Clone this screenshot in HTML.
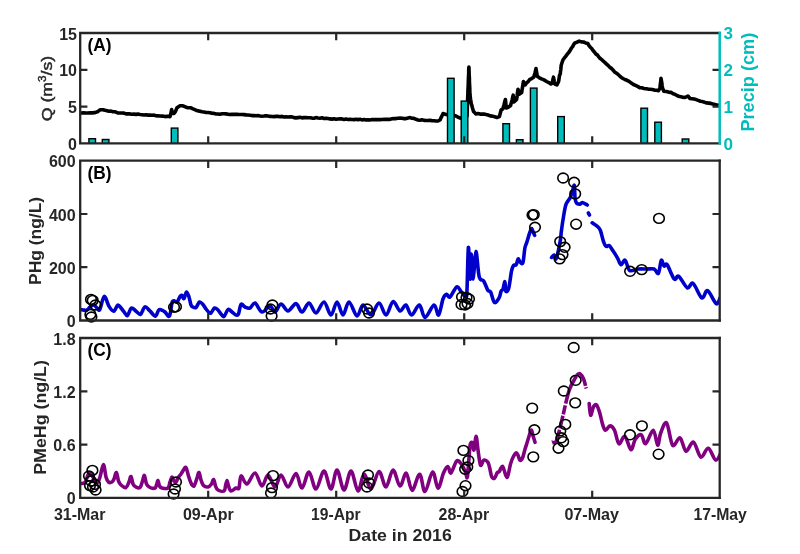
<!DOCTYPE html><html><head><meta charset="utf-8"><style>html,body{margin:0;padding:0;background:#fff;width:800px;height:554px;overflow:hidden}svg{display:block;filter:blur(0.35px)}text{font-family:"Liberation Sans",sans-serif}</style></head><body>
<svg width="800" height="554" viewBox="0 0 800 554">
<rect width="800" height="554" fill="#fff"/>
<g font-weight="bold">
<clipPath id="ca"><rect x="80.2" y="33" width="639.5" height="110.4"/></clipPath>
<clipPath id="cb"><rect x="80.2" y="160.7" width="639.5" height="159.8"/></clipPath>
<clipPath id="cc"><rect x="80.2" y="338" width="639.5" height="159.9"/></clipPath>
<path clip-path="url(#ca)" d="M81 113 L83.5 112.8 L86 113 L88 113 L90 112.8 L92 112.9 L95 112.6 L98 111.5 L100 109.8 L103 109.7 L105 110.3 L107 110.7 L109 111.2 L111 111.1 L113 111.8 L115.3 111.8 L117.7 112.9 L120 113 L122 113 L124 113.1 L126 113.9 L128 113.7 L130 113.9 L132 114.3 L134 114.1 L136 114.4 L138 114.1 L140 114.5 L142 114.7 L144 115 L146 114.8 L148 115.1 L150 115 L152 115.3 L154 115.1 L156 115.8 L158 115.9 L160 116 L162.5 116.1 L165 116.6 L167.5 116.2 L170 116.6 L171 113 L171.6 109.5 L172.1 111.8 L172.5 113.5 L174 113.5 L175.5 111.5 L176.2 109.6 L177 107.7 L180 105.8 L183 105.8 L186 107.2 L188 107.7 L191 107.8 L193 108.8 L196 110.2 L198 110.9 L200 111.2 L202 111.8 L204 112 L206 112.5 L208 112.5 L210 112.7 L212 113.3 L214 113.4 L216 114 L218 114 L220 114.3 L222 113.8 L224 113.8 L226 113.9 L228 114.2 L230 114.6 L232 114.2 L234 114.4 L236 114.2 L238 114.4 L240 114.5 L242 114.5 L244 114.6 L246 114.9 L248 115 L250 115.2 L252 115.6 L254 115.5 L256 115.8 L258 115.6 L260 116 L262 116.2 L264 116 L266 115.7 L268 116 L270 116.4 L272 116.5 L274 116.6 L276 116.4 L278 116.4 L280 116.7 L282 116.4 L284 117 L286 116.9 L288 117 L290 116.9 L292 116.9 L294 117.6 L296 117.9 L298 117.6 L300 117.3 L302 117.9 L304 117.6 L306 117.5 L308 117.8 L310 117.7 L312 118.1 L314 118.2 L316 117.6 L318 118 L320 118.2 L322 117.8 L324 118.5 L326 118.3 L328 118.5 L330 118.9 L332 119.1 L334 118.8 L336 119.3 L338 119 L340 118.9 L342 118.9 L344 119.4 L346 119 L348 119.5 L350 119.3 L352 119.5 L354 119.6 L356 119.3 L358 119.6 L360 119.3 L362 119.9 L364 119.5 L366 120 L368 119.7 L370 120 L372 119.6 L374 119.6 L376 119.6 L378 119.6 L380 119.6 L382 119.5 L384 119.4 L386 119.4 L388 119.2 L390 119.4 L392 118.8 L394 118.5 L396 118.6 L398 118.2 L400 118.1 L402 118.3 L404 118.6 L406 118.6 L408 118 L410 117.6 L412 118.2 L414 118.4 L416 119.3 L418 120 L420 120.2 L422 119.8 L424 120.4 L426 120.5 L428 120.5 L430 120.2 L432 120.8 L434 120.8 L436 121 L438 121 L440 120 L441 117.7 L442 115.9 L443 113.6 L446 114.4 L448 115 L450 114.8 L452 115.5 L454 115.4 L456 116 L458 117.1 L460 118 L463 118.5 L465 117.6 L467 116 L467.1 113.8 L467.2 111.9 L467.2 109.9 L467.3 107.7 L467.4 105.7 L467.5 103.6 L467.6 101.6 L467.6 99.7 L467.7 97.5 L467.8 95.5 L467.9 93.8 L467.9 91.1 L468 89.5 L468.1 87.6 L468.2 85.2 L468.3 83.1 L468.3 81.5 L468.4 79 L468.5 77 L468.6 75.1 L468.7 73.3 L468.7 70.8 L468.8 68.9 L468.9 67 L469 68.9 L469.1 71.3 L469.1 73 L469.2 75.3 L469.3 76.7 L469.4 78.9 L469.4 81.1 L469.5 83.3 L469.6 85 L469.7 86.8 L469.8 88.7 L469.8 91 L469.9 92.8 L470 95 L470.3 97.3 L470.6 99.5 L470.9 101 L471.2 103.4 L471.8 105.3 L472.4 107.7 L473 109.7 L473.6 111.6 L476 114 L478 113.6 L480 114.1 L482 114 L484 114.1 L486 114.6 L488 115 L490.2 115.9 L492.4 116.1 L494.7 116.8 L496.9 117.5 L499.4 116.6 L500 114.3 L500.6 112 L501.2 109.8 L502.9 108.9 L503.5 106.5 L504.1 104.5 L504.8 101.6 L505.4 99.5 L505.6 101.2 L505.9 104.1 L506.1 106.2 L506.3 108 L508.5 107.1 L510.6 105.5 L511.1 103.4 L511.6 101.7 L512.2 99.7 L512.7 97 L513.2 95.2 L513.5 97.7 L513.7 100 L514 102 L516.6 99.5 L516.9 97.6 L517.2 95.4 L517.4 93.2 L517.7 91.1 L518 89.2 L518.6 91.5 L519.2 94.3 L521.7 92.6 L522 90 L522.4 88.2 L522.7 85.8 L523.1 84 L523.4 81.5 L525.2 84.9 L526.6 82.8 L528.1 81.8 L529.5 79.7 L531.6 78.6 L533.7 77.2 L534.3 75.4 L534.9 73.2 L535.4 71.1 L536 68.6 L536.4 71.2 L536.8 73.3 L537.2 76.3 L539.4 77.8 L541.5 78.9 L544 79.9 L546.6 81.5 L548.8 82.6 L550.9 84 L552.1 83.2 L552.6 81.3 L553 79.2 L553.5 77.2 L553.9 79.4 L554.4 82.1 L554.8 84 L556.9 84.9 L558.6 81.5 L558.9 79.6 L559.2 77.4 L559.5 75.5 L560.3 73.7 L560.5 71.4 L560.8 69.7 L561 67.3 L561.2 65.2 L562 62.8 L562.9 60 L564.2 58.2 L565.5 56.6 L567.2 54.2 L568.9 52.3 L570.2 50.2 L571.5 48 L572.6 46.6 L573.8 44.3 L574.9 42.9 L577 42.2 L579.2 41.1 L581.4 41.9 L583.5 42 L585.6 42.9 L587.8 43.4 L589 45.6 L590.3 47.2 L591.7 48.5 L593.2 50.7 L594.6 52.3 L596 54.1 L597.3 54.9 L598.6 56.6 L600 58.3 L601.7 59.6 L603.3 61.2 L605 62.6 L606.6 64.1 L608.3 65.6 L609.9 67.4 L611.5 68.4 L613 70 L614.6 71.9 L616.1 72.9 L617.7 74.2 L619.2 75.5 L620.8 77.1 L622.9 78.5 L624.9 79.5 L627 80.3 L629.1 81.4 L631.3 83.1 L633.4 84.5 L635.5 85.4 L637.6 86.4 L639.7 87.6 L641.8 87.8 L643.9 88.5 L646 88.7 L648.1 89.1 L650.2 89.3 L652.3 89.5 L654.4 90.1 L656.5 90.3 L658.5 90.7 L660 88 L660.2 85.2 L660.5 83.1 L660.8 80.8 L661 78.2 L661.4 80.6 L661.8 82.8 L662.1 85.3 L662.5 88 L663.8 91.2 L666.2 91.5 L668.6 92.1 L671 92.4 L673.1 93.7 L675.2 94.4 L677.4 95.8 L679.5 96.6 L682.2 97.1 L685 97.5 L687.9 96 L690 98.5 L692 98.7 L694 99.1 L696.1 99.6 L698.2 100.4 L700.4 101.2 L702.5 101.6 L704.6 102.3 L706.7 102.9 L708.8 103.1 L710.8 103.4 L712.9 104 L715 104.4 L717 105.1 L719 105.4" fill="none" stroke="#000" stroke-width="3.6" stroke-linejoin="round" stroke-linecap="round"/>
<g clip-path="url(#ca)" fill="#00BDBD" stroke="#000" stroke-width="1.4">
<rect x="88.9" y="138.7" width="6.6" height="5.4"/>
<rect x="102.3" y="139.5" width="6.6" height="4.6"/>
<rect x="171.3" y="128.1" width="6.6" height="16"/>
<rect x="447.5" y="78.3" width="6.6" height="65.8"/>
<rect x="461.2" y="101.1" width="6.6" height="43"/>
<rect x="502.9" y="123.7" width="6.6" height="20.4"/>
<rect x="516.4" y="139.7" width="6.6" height="4.4"/>
<rect x="530.4" y="88.1" width="6.6" height="56"/>
<rect x="557.7" y="116.6" width="6.6" height="27.5"/>
<rect x="640.9" y="108.2" width="6.6" height="35.9"/>
<rect x="654.8" y="122.2" width="6.6" height="21.9"/>
<rect x="682.2" y="139" width="6.6" height="5.1"/>
</g>
<path clip-path="url(#cb)" d="M80 309.5 C80.5 309.6 81.8 309.9 83 310 C84.2 310.1 85.8 310.5 87 310 C88.2 309.5 88.8 307.8 90 307 C91.2 306.2 92.8 304.8 94 305 C95.2 305.2 96 307.2 97 308 C98 308.8 98.6 311.4 99.8 309.5 C101 307.6 102.7 296.9 104.2 296.4 C105.7 295.9 107.4 303.9 109 306.4 C110.6 308.9 112.3 311.4 113.8 311.2 C115.2 311 116.5 305.6 117.7 305.1 C118.9 304.6 120.2 307.1 121.2 308.2 C122.2 309.3 122.9 310.5 123.9 311.7 C124.9 312.9 126.2 316.2 127.4 315.6 C128.6 315 129.9 308.9 131.3 308.2 C132.8 307.5 134.6 310.2 136.1 311.2 C137.6 312.2 139 315 140.5 314.3 C142 313.6 143.3 307.4 144.9 306.9 C146.5 306.4 148.3 309.7 150.1 311.2 C151.8 312.7 153.9 316.3 155.4 316.1 C156.9 315.9 157.7 310.8 158.9 309.9 C160.1 308.9 161.4 310 162.4 310.4 C163.4 310.8 163.8 311.1 165 312 C166.2 312.9 168.2 317.8 169.5 316 C170.8 314.2 171.2 303.8 172.5 301.5 C173.8 299.2 175.8 302.8 177 302 C178.2 301.2 179.2 297.6 180 296.5 C180.8 295.4 181.3 295.2 182 295.5 C182.7 295.8 183.2 299.1 184 298.5 C184.8 297.9 185.7 292.2 186.5 292 C187.3 291.8 188.2 294.8 189 297 C189.8 299.2 190.3 303.3 191 305 C191.7 306.7 192.2 306.6 193 307 C193.8 307.4 194.9 308.3 196 307.5 C197.1 306.7 198.3 302.5 199.5 302 C200.7 301.5 201.9 303.3 203 304.5 C204.1 305.7 205.1 307.8 206 309 C206.9 310.2 207.7 311.3 208.5 312 C209.3 312.7 210 313.7 211 313 C212 312.3 213.3 308.5 214.5 308 C215.7 307.5 216.9 309 218 310 C219.1 311 220 312.9 221 314 C222 315.1 222.8 317.2 224 316.5 C225.2 315.8 226.7 310.2 228 309.5 C229.3 308.8 230.7 311.1 232 312 C233.3 312.9 234.9 314.7 236 315 C237.1 315.3 237.7 315.8 238.5 314 C239.3 312.2 239.9 305.7 241 304.5 C242.1 303.3 243.5 306.4 245 307 C246.5 307.6 248.3 308.7 250 308 C251.7 307.3 253 302.3 255 303 C257 303.7 259.5 311.5 262 312 C264.5 312.5 267.8 306 270 306 C272.2 306 273.2 312.3 275 312 C276.8 311.7 278.8 304.2 281 304 C283.2 303.8 285.5 311.1 288 311 C290.5 310.9 293.7 303.4 296 303.6 C298.3 303.8 299.8 312.1 302 312 C304.2 311.9 306.7 302.8 309 303 C311.3 303.2 313.5 313.2 316 313 C318.5 312.8 321.5 301.7 324 302 C326.5 302.3 328.8 315 331 315 C333.2 315 335 302 337 302 C339 302 341 315 343 315 C345 315 346.7 301.8 349 302 C351.3 302.2 354.7 315.5 357 316 C359.3 316.5 360.7 305.2 363 305 C365.3 304.8 368.3 315.3 371 315 C373.7 314.7 376.5 303 379 303 C381.5 303 383.7 315.2 386 315 C388.3 314.8 390.7 302.3 393 301.6 C395.3 300.9 397.9 310.4 400 311 C402.1 311.6 404 304.3 405.9 305 C407.8 305.7 409.2 315 411.5 315 C413.8 315 417.1 304.6 419.4 305 C421.6 305.4 422.6 317.4 425 317.4 C427.4 317.4 431.7 305.4 434 305 C436.3 304.6 437.1 316 438.6 315 C440.1 314 441.7 302.4 443 299 C444.3 295.6 445.3 294.6 446.5 294.3 C447.7 294 448.3 298.2 450 297 C451.7 295.8 454.9 287.8 456.7 286.9 C458.5 286 459.5 289.7 461 291.4 C462.5 293.1 464.7 297.2 465.7 297 C466.7 296.8 466.6 298.3 467 290 C467.4 281.7 467.9 249.2 468.4 247.4 C468.9 245.6 469.7 277.9 470.2 279 C470.7 280.1 470.8 254 471.3 254 C471.8 254 472.4 279.4 473.2 279 C474 278.6 474.9 251.9 475.9 251.5 C476.9 251.1 477.9 271.8 479.2 276.7 C480.5 281.6 482.4 278.9 483.8 281.2 C485.2 283.4 486.7 288.4 487.8 290.2 C488.9 292 489.6 290.1 490.7 292.1 C491.8 294.2 493.1 301.6 494.5 302.5 C495.9 303.4 498.1 299.6 499.2 297.7 C500.3 295.8 500.5 292.5 501.1 291.1 C501.7 289.7 502.4 290.8 503 289.2 C503.6 287.6 504.4 281.4 504.9 281.7 C505.4 282 505.2 290 505.8 291.1 C506.4 292.2 507.8 291.6 508.7 288.3 C509.6 285 510.7 275 511.5 271.2 C512.3 267.4 512.6 266.7 513.4 265.6 C514.2 264.5 515.4 265.7 516.2 264.6 C517 263.5 517.5 259.5 518.1 259 C518.7 258.5 519.2 261.2 520 261.8 C520.8 262.4 522.1 264.9 522.9 262.7 C523.7 260.5 524.2 251.8 524.8 248.5 C525.4 245.2 525.8 245.4 526.6 242.9 C527.4 240.4 528.7 235.8 529.5 233.4 C530.3 231 530.8 229 531.4 228.7 C532 228.4 532.5 230.4 533 231.5 C533.5 232.6 534.3 234.7 534.6 235.3" fill="none" stroke="#0000CC" stroke-width="3.6" stroke-linejoin="round" stroke-linecap="round"/>
<path clip-path="url(#cb)" d="M551.6 257.4 C552 257 553.3 254.7 554 255 C554.7 255.3 555.2 259.8 556 259 C556.8 258.2 557.8 253.2 558.5 250 C559.2 246.8 559.9 243 560.4 240 C560.9 237 560.8 235.9 561.3 231.8 C561.8 227.7 562.9 220.1 563.7 215.5 C564.5 210.9 565 207.1 566.1 204.1 C567.2 201.1 569.1 199.8 570.2 197.6 C571.3 195.4 571.9 193.1 572.6 191.1 C573.3 189.1 573.9 184.2 574.3 185.4 C574.7 186.6 574.7 195.5 575.1 198.5 C575.5 201.5 575.9 202.4 576.7 203.3 C577.5 204.2 579 204.2 580 204.1 C581 204 581.2 202.3 582.4 202.5 C583.6 202.7 586.5 204.6 587.3 205" fill="none" stroke="#0000CC" stroke-width="3.6" stroke-linejoin="round" stroke-linecap="round"/>
<path clip-path="url(#cb)" d="M588.3 213 L589.5 215" fill="none" stroke="#0000CC" stroke-width="3.6" stroke-linejoin="round" stroke-linecap="round"/>
<path clip-path="url(#cb)" d="M592.2 222.8 C593 223.4 595.6 224.9 597 226.1 C598.4 227.3 599.2 227.6 600.3 230.2 C601.4 232.8 602.5 238.8 603.5 241.5 C604.5 244.2 605 245.7 606 246.4 C607 247.1 608 244.8 609.2 245.6 C610.4 246.4 611.9 249.3 613.3 251.3 C614.7 253.3 616.1 255.6 617.4 257.8 C618.7 260 619.6 264.3 620.9 264.7 C622.2 265.1 623.8 259.4 625.2 260.3 C626.7 261.2 627.4 268.9 629.6 270.4 C631.8 271.8 635.3 269.2 638.2 269 C641.1 268.8 644.2 269 646.9 269 C649.5 269 652.2 268.3 654.1 269 C656 269.7 657.2 274.8 658.4 273.3 C659.6 271.9 660.4 261.5 661.3 260.3 C662.2 259.1 663 265.3 664 266 C665 266.7 665.4 262.5 667.1 264.7 C668.8 266.9 672.4 277.2 674.3 279.1 C676.2 281 676.5 274.8 678.7 276.2 C680.9 277.6 684.9 286.6 687.3 287.8 C689.7 289 690.7 281.7 693.1 283.4 C695.5 285.1 699.4 296.7 701.8 297.9 C704.2 299.1 705.2 289.7 707.6 290.7 C710 291.7 714.1 302.5 716.2 303.7 C718.3 304.9 719.4 298.9 720 298" fill="none" stroke="#0000CC" stroke-width="3.6" stroke-linejoin="round" stroke-linecap="round"/>
<g fill="none" stroke="#000" stroke-width="1.6">
<ellipse cx="91" cy="299.4" rx="5.3" ry="4.9"/>
<ellipse cx="92.7" cy="300.4" rx="5.3" ry="4.9"/>
<ellipse cx="95.4" cy="305" rx="5.3" ry="4.9"/>
<ellipse cx="90.4" cy="314.4" rx="5.3" ry="4.9"/>
<ellipse cx="91.4" cy="317" rx="5.3" ry="4.9"/>
<ellipse cx="174" cy="307.2" rx="5.3" ry="4.9"/>
<ellipse cx="176" cy="306.8" rx="5.3" ry="4.9"/>
<ellipse cx="272.4" cy="305" rx="5.3" ry="4.9"/>
<ellipse cx="270.4" cy="309" rx="5.3" ry="4.9"/>
<ellipse cx="271.6" cy="316" rx="5.3" ry="4.9"/>
<ellipse cx="367" cy="309" rx="5.3" ry="4.9"/>
<ellipse cx="369" cy="313" rx="5.3" ry="4.9"/>
<ellipse cx="462" cy="297" rx="5.3" ry="4.9"/>
<ellipse cx="466.5" cy="297.5" rx="5.3" ry="4.9"/>
<ellipse cx="469" cy="299" rx="5.3" ry="4.9"/>
<ellipse cx="461.5" cy="304.5" rx="5.3" ry="4.9"/>
<ellipse cx="465" cy="305" rx="5.3" ry="4.9"/>
<ellipse cx="467.5" cy="303.5" rx="5.3" ry="4.9"/>
<ellipse cx="532.5" cy="215" rx="5.3" ry="4.9"/>
<ellipse cx="533.8" cy="214.6" rx="5.3" ry="4.9"/>
<ellipse cx="535" cy="227.3" rx="5.3" ry="4.9"/>
<ellipse cx="563.1" cy="178" rx="5.3" ry="4.9"/>
<ellipse cx="574.1" cy="182.3" rx="5.3" ry="4.9"/>
<ellipse cx="575.2" cy="193.9" rx="5.3" ry="4.9"/>
<ellipse cx="576.1" cy="224.2" rx="5.3" ry="4.9"/>
<ellipse cx="560.2" cy="241.6" rx="5.3" ry="4.9"/>
<ellipse cx="564.6" cy="247.3" rx="5.3" ry="4.9"/>
<ellipse cx="562.5" cy="254.6" rx="5.3" ry="4.9"/>
<ellipse cx="559.6" cy="258.9" rx="5.3" ry="4.9"/>
<ellipse cx="630.1" cy="271.3" rx="5.3" ry="4.9"/>
<ellipse cx="641.7" cy="269.6" rx="5.3" ry="4.9"/>
<ellipse cx="659" cy="218.4" rx="5.3" ry="4.9"/>
</g>
<path clip-path="url(#cc)" d="M80 483.5 C80.8 483.3 83.7 483.9 85 482.5 C86.3 481.1 87.1 476.6 88 475 C88.9 473.4 89.6 472.5 90.5 473 C91.4 473.5 92.4 476.3 93.5 478 C94.6 479.7 95.9 483.2 97 483 C98.1 482.8 98.9 480.1 100 477 C101.1 473.9 102.4 464.5 103.4 464.5 C104.4 464.5 105.2 474.1 106 477 C106.8 479.9 107.5 481.2 108.5 482 C109.5 482.8 111.1 482.5 112 482 C112.9 481.5 113.3 480.6 114 479 C114.7 477.4 115.7 472.2 116.4 472.5 C117.2 472.8 117.7 478.9 118.5 481 C119.3 483.1 119.8 483.9 121 485 C122.2 486.1 124.7 488 126 487.5 C127.3 487 128.2 483.8 129 482 C129.8 480.2 130.3 476.2 131 476.5 C131.7 476.8 132.2 482.2 133 484 C133.8 485.8 134.8 486.4 136 487 C137.2 487.6 138.9 488.5 140 487.5 C141.1 486.5 141.8 483 142.5 481 C143.2 479 143.7 475 144.4 475.5 C145.1 476 145.6 482 146.5 484 C147.4 486 148.6 486.8 150 487.5 C151.4 488.2 153.9 488.4 155 488 C156.1 487.6 156 486.2 156.5 485 C157 483.8 157.5 480.3 158 480.5 C158.5 480.7 158.8 484.8 159.5 486 C160.2 487.2 160.6 487.7 162 488 C163.4 488.3 166.7 489 168 488 C169.3 487 169.3 483.8 170 482 C170.7 480.2 171.3 477.2 172 477 C172.7 476.8 173.3 480.2 174 481 C174.7 481.8 175.3 482.5 176 482 C176.7 481.5 177.2 479.3 178 478 C178.8 476.7 180.1 475.3 181 474 C181.9 472.7 182.7 471.1 183.5 470 C184.3 468.9 185.2 466.5 186 467.5 C186.8 468.5 187.7 473.4 188.5 476 C189.3 478.6 190.1 481.3 191 483 C191.9 484.7 193 486.8 194 486 C195 485.2 196.2 480.2 197 478 C197.8 475.8 198.3 472.2 199 472.5 C199.7 472.8 200.2 477.8 201 480 C201.8 482.2 202.3 484.3 203.5 485.5 C204.7 486.7 206.7 487.2 208 487 C209.3 486.8 210.6 485.2 211.5 484 C212.4 482.8 212.9 479.2 213.6 479.5 C214.3 479.8 214.8 484.2 215.5 486 C216.2 487.8 216.6 489.2 218 490 C219.4 490.8 222.8 491.7 224 491 C225.2 490.3 225 487.8 225.5 486 C226 484.2 226.5 480.5 227 480.5 C227.5 480.5 227.8 484.2 228.5 486 C229.2 487.8 229.8 490.7 231 491 C232.2 491.3 234.7 488.5 236 488 C237.3 487.5 238.2 490 239 488 C239.8 486 239.7 476.7 241 476 C242.3 475.3 244.7 484.5 247 484 C249.3 483.5 252.5 472.7 255 473 C257.5 473.3 259.8 485.7 262 486 C264.2 486.3 265.8 474.8 268 475 C270.2 475.2 272.8 487 275 487 C277.2 487 278.8 475 281 475 C283.2 475 285.5 487.2 288 487 C290.5 486.8 293.7 473.4 296 473.6 C298.3 473.8 299.8 488.3 302 488 C304.2 487.7 306.7 471.8 309 472 C311.3 472.2 313.5 489.2 316 489 C318.5 488.8 321.5 471 324 471 C326.5 471 328.8 489.2 331 489 C333.2 488.8 334.8 469.8 337 470 C339.2 470.2 341.7 489.8 344 490 C346.3 490.2 348.7 470.8 351 471 C353.3 471.2 355.8 490.5 358 491 C360.2 491.5 361.8 474.3 364 474 C366.2 473.7 368.5 489.4 371 489 C373.5 488.6 376.5 471.9 379 471.6 C381.5 471.3 383.7 487.3 386 487 C388.3 486.7 390.7 470.2 393 470 C395.3 469.8 397.8 485.5 400 486 C402.2 486.5 404.2 472.4 406.2 473.1 C408.2 473.8 409.9 490.2 412.1 490.4 C414.3 490.6 417.5 474 419.6 474.2 C421.8 474.4 422.8 491.9 425 491.5 C427.2 491.1 430.4 472.6 432.6 472 C434.8 471.4 436.2 488 438 488.2 C439.8 488.4 441.9 476.6 443.5 473 C445.1 469.4 446.6 466.6 447.8 466.6 C449.1 466.6 449.6 473.9 451 473 C452.4 472.1 454.9 462.8 456.5 461.2 C458.1 459.6 459.4 461.8 460.8 463.4 C462.2 465 464 468.7 465.1 471 C466.2 473.3 466.7 479.6 467.3 477.4 C467.9 475.2 468.5 463.5 469 458 C469.5 452.5 469.6 447 470.2 444.5 C470.8 442 471.7 442.1 472.3 443 C472.9 443.9 473.4 451.1 474 450 C474.6 448.9 475.4 436.4 476.1 436.4 C476.8 436.4 477.3 445.2 478 450 C478.7 454.8 479.6 463.4 480.5 465.1 C481.4 466.8 482.5 460.7 483.7 460.2 C484.9 459.7 486.8 460.9 487.8 462.2 C488.8 463.5 489.1 465.5 489.7 467.9 C490.3 470.3 490.8 474.7 491.6 476.4 C492.4 478.1 493.6 478.9 494.5 478.3 C495.4 477.7 496.5 473.7 497.3 472.6 C498.1 471.5 498.6 472.5 499.2 471.7 C499.8 470.9 500.5 468.7 501.1 467.9 C501.7 467.1 502.2 465.6 503 466.9 C503.8 468.1 505 473.8 505.8 475.4 C506.6 477 506.9 478.3 507.7 476.4 C508.5 474.5 509.6 467.4 510.5 464.1 C511.4 460.8 512.4 458.4 513.4 456.5 C514.4 454.6 515.4 452.8 516.2 452.7 C517 452.6 517.5 454.3 518.1 455.6 C518.7 456.9 519.3 459.9 520 460.3 C520.7 460.7 521.7 459.7 522.5 458 C523.3 456.3 524.1 452.2 524.8 449.9 C525.5 447.6 525.8 446.7 526.6 444.2 C527.4 441.7 528.7 437.1 529.5 434.7 C530.3 432.3 530.8 429.8 531.4 430 C532 430.2 532.4 433.6 533 435.7 C533.6 437.8 534.7 441.2 535 442.3" fill="none" stroke="#800080" stroke-width="3.6" stroke-linejoin="round" stroke-linecap="round"/>
<path clip-path="url(#cc)" d="M589.2 403.5 C589.4 405.5 589.9 414.9 590.6 415.4 C591.3 415.9 592.6 408.2 593.6 406.5 C594.6 404.8 595.6 404 596.6 405 C597.6 406 598.6 409.2 599.6 412.4 C600.6 415.6 601.6 421.4 602.6 424.4 C603.6 427.4 604.3 430.1 605.5 430.3 C606.7 430.6 608.5 425.9 610 425.9 C611.5 425.9 613 427.3 614.5 430.3 C616 433.3 617.2 442.7 618.9 443.7 C620.6 444.7 622.9 435.3 624.9 436.3 C626.9 437.3 629.2 449.2 630.9 449.7 C632.6 450.2 633.6 441.8 635.3 439.3 C637 436.8 639.6 434.1 641.3 434.8 C643 435.5 643.7 444.4 645.7 443.7 C647.7 442.9 651.2 430.1 653.2 430.3 C655.2 430.6 656.5 444.7 657.7 445.2 C658.9 445.7 659.1 437 660.6 433.3 C662.1 429.6 664.6 420.9 666.6 422.9 C668.6 424.9 670.4 442.7 672.6 445.2 C674.8 447.7 677.8 436.8 680 437.8 C682.2 438.8 683.8 450.5 686 451.2 C688.2 451.9 690.9 441.2 693.4 442.2 C695.9 443.2 698.4 456.1 700.9 457.1 C703.4 458.1 705.8 447.7 708.3 448.2 C710.8 448.7 713.6 459.6 715.8 460.1 C718 460.6 720.7 452.7 721.7 451.2" fill="none" stroke="#800080" stroke-width="3.6" stroke-linejoin="round" stroke-linecap="round"/>
<path clip-path="url(#cc)" d="M551.9 442.2 C552.6 441.9 554.7 444.7 556.4 440.7 C558.1 436.7 560.6 425.3 562.3 418.4 C564 411.4 565.5 404 566.8 399 C568 394 568.5 391.8 569.8 388.6 C571 385.4 572.8 382.2 574.3 379.7 C575.8 377.2 577.2 373.9 578.7 373.7 C580.2 373.4 582 375.7 583.2 378.2 C584.5 380.7 585.7 386.9 586.2 388.6" fill="none" stroke="#800080" stroke-width="3.6" stroke-linejoin="round" stroke-linecap="butt" stroke-dasharray="17 1.4 13 1.4 9 1.8 30 1"/>
<g fill="none" stroke="#000" stroke-width="1.6">
<ellipse cx="92.4" cy="470.4" rx="5.3" ry="4.9"/>
<ellipse cx="89" cy="476" rx="5.3" ry="4.9"/>
<ellipse cx="91" cy="481" rx="5.3" ry="4.9"/>
<ellipse cx="95" cy="484.4" rx="5.3" ry="4.9"/>
<ellipse cx="90" cy="485.6" rx="5.3" ry="4.9"/>
<ellipse cx="95.6" cy="490" rx="5.3" ry="4.9"/>
<ellipse cx="93" cy="487" rx="5.3" ry="4.9"/>
<ellipse cx="176" cy="482" rx="5.3" ry="4.9"/>
<ellipse cx="175" cy="489" rx="5.3" ry="4.9"/>
<ellipse cx="173.6" cy="494" rx="5.3" ry="4.9"/>
<ellipse cx="273" cy="475.6" rx="5.3" ry="4.9"/>
<ellipse cx="272" cy="487.6" rx="5.3" ry="4.9"/>
<ellipse cx="271" cy="493" rx="5.3" ry="4.9"/>
<ellipse cx="368" cy="475" rx="5.3" ry="4.9"/>
<ellipse cx="369" cy="483" rx="5.3" ry="4.9"/>
<ellipse cx="367" cy="487" rx="5.3" ry="4.9"/>
<ellipse cx="463.4" cy="450.4" rx="5.3" ry="4.9"/>
<ellipse cx="468.4" cy="460.5" rx="5.3" ry="4.9"/>
<ellipse cx="467.3" cy="467" rx="5.3" ry="4.9"/>
<ellipse cx="465.1" cy="469.2" rx="5.3" ry="4.9"/>
<ellipse cx="465.5" cy="485.7" rx="5.3" ry="4.9"/>
<ellipse cx="462.5" cy="491.5" rx="5.3" ry="4.9"/>
<ellipse cx="532.2" cy="408.1" rx="5.3" ry="4.9"/>
<ellipse cx="534.4" cy="429.8" rx="5.3" ry="4.9"/>
<ellipse cx="533.3" cy="456.9" rx="5.3" ry="4.9"/>
<ellipse cx="573.7" cy="347.5" rx="5.3" ry="4.9"/>
<ellipse cx="575.7" cy="380.3" rx="5.3" ry="4.9"/>
<ellipse cx="563.8" cy="391" rx="5.3" ry="4.9"/>
<ellipse cx="575.2" cy="402.9" rx="5.3" ry="4.9"/>
<ellipse cx="565.3" cy="424.4" rx="5.3" ry="4.9"/>
<ellipse cx="560.3" cy="430.9" rx="5.3" ry="4.9"/>
<ellipse cx="561.4" cy="437.8" rx="5.3" ry="4.9"/>
<ellipse cx="563.2" cy="441.6" rx="5.3" ry="4.9"/>
<ellipse cx="558.5" cy="448.2" rx="5.3" ry="4.9"/>
<ellipse cx="630" cy="434.8" rx="5.3" ry="4.9"/>
<ellipse cx="641.9" cy="425.9" rx="5.3" ry="4.9"/>
<ellipse cx="658.6" cy="454.2" rx="5.3" ry="4.9"/>
</g>
<g stroke="#262626" fill="none"><path stroke-width="2.3" stroke-linecap="square" d="M80.2 33 H719.7 M80.2 33 V143.4 M80.2 143.4 H719.7"/><path stroke-width="2.2" stroke-linecap="butt" d="M208.2 143.4 v-7.2 M208.2 33 v7.2 M336.2 143.4 v-7.2 M336.2 33 v7.2 M464.2 143.4 v-7.2 M464.2 33 v7.2 M592.2 143.4 v-7.2 M592.2 33 v7.2 M80.2 106.6 h7.2 M719.7 106.6 h-7.2 M80.2 69.8 h7.2 M719.7 69.8 h-7.2 "/></g><path d="M719.7 33 V143.4" stroke="#00BDBD" stroke-width="2.5" fill="none" stroke-linecap="square"/>
<g stroke="#262626" fill="none"><path stroke-width="2.3" stroke-linecap="square" d="M80.2 160.7 H719.7 M80.2 160.7 V320.5 M80.2 320.5 H719.7"/><path stroke-width="2.2" stroke-linecap="butt" d="M208.2 320.5 v-7.2 M208.2 160.7 v7.2 M336.2 320.5 v-7.2 M336.2 160.7 v7.2 M464.2 320.5 v-7.2 M464.2 160.7 v7.2 M592.2 320.5 v-7.2 M592.2 160.7 v7.2 M80.2 267.2 h7.2 M719.7 267.2 h-7.2 M80.2 214 h7.2 M719.7 214 h-7.2 "/></g><path d="M719.7 160.7 V320.5" stroke="#262626" stroke-width="2.3" fill="none" stroke-linecap="square"/>
<g stroke="#262626" fill="none"><path stroke-width="2.3" stroke-linecap="square" d="M80.2 338 H719.7 M80.2 338 V497.9 M80.2 497.9 H719.7"/><path stroke-width="2.2" stroke-linecap="butt" d="M208.2 497.9 v-7.2 M208.2 338 v7.2 M336.2 497.9 v-7.2 M336.2 338 v7.2 M464.2 497.9 v-7.2 M464.2 338 v7.2 M592.2 497.9 v-7.2 M592.2 338 v7.2 M80.2 444.6 h7.2 M719.7 444.6 h-7.2 M80.2 391.3 h7.2 M719.7 391.3 h-7.2 "/></g><path d="M719.7 338 V497.9" stroke="#262626" stroke-width="2.3" fill="none" stroke-linecap="square"/>
<text x="77" y="149.9" font-size="16" fill="#262626" text-anchor="end">0</text>
<text x="77" y="113.1" font-size="16" fill="#262626" text-anchor="end">5</text>
<text x="77" y="76.3" font-size="16" fill="#262626" text-anchor="end">10</text>
<text x="77" y="39.5" font-size="16" fill="#262626" text-anchor="end">15</text>
<text x="75.6" y="327" font-size="16" fill="#262626" text-anchor="end">0</text>
<text x="75.6" y="273.7" font-size="16" fill="#262626" text-anchor="end">200</text>
<text x="75.6" y="220.5" font-size="16" fill="#262626" text-anchor="end">400</text>
<text x="75.6" y="167.2" font-size="16" fill="#262626" text-anchor="end">600</text>
<text x="75.6" y="504.4" font-size="16" fill="#262626" text-anchor="end">0</text>
<text x="75.6" y="451.1" font-size="16" fill="#262626" text-anchor="end">0.6</text>
<text x="75.6" y="397.8" font-size="16" fill="#262626" text-anchor="end">1.2</text>
<text x="75.6" y="344.5" font-size="16" fill="#262626" text-anchor="end">1.8</text>
<text x="723.5" y="149.6" font-size="17" fill="#00BDBD">0</text>
<text x="723.5" y="112.8" font-size="17" fill="#00BDBD">1</text>
<text x="723.5" y="76" font-size="17" fill="#00BDBD">2</text>
<text x="723.5" y="39.2" font-size="17" fill="#00BDBD">3</text>
<text x="53.9" y="519.6" font-size="16" fill="#262626" textLength="51.5" lengthAdjust="spacingAndGlyphs">31-Mar</text>
<text x="182.9" y="519.6" font-size="16" fill="#262626" textLength="50.8" lengthAdjust="spacingAndGlyphs">09-Apr</text>
<text x="311.1" y="519.6" font-size="16" fill="#262626" textLength="49.5" lengthAdjust="spacingAndGlyphs">19-Apr</text>
<text x="438.6" y="519.6" font-size="16" fill="#262626" textLength="50.5" lengthAdjust="spacingAndGlyphs">28-Apr</text>
<text x="564.4" y="519.6" font-size="16" fill="#262626" textLength="54.6" lengthAdjust="spacingAndGlyphs">07-May</text>
<text x="693.4" y="519.6" font-size="16" fill="#262626" textLength="53.5" lengthAdjust="spacingAndGlyphs">17-May</text>
<text x="348.6" y="540.6" font-size="16.5" fill="#262626" textLength="103.2" lengthAdjust="spacingAndGlyphs">Date in 2016</text>
<text transform="translate(52.2 121.2) rotate(-90)" font-size="15" font-weight="normal" fill="#262626" textLength="65.3" lengthAdjust="spacingAndGlyphs" stroke="#262626" stroke-width="0.45">Q (m<tspan font-size="10" dy="-6">3</tspan><tspan dy="6">/s)</tspan></text>
<text transform="translate(40.8 285) rotate(-90)" font-size="16" font-weight="bold" fill="#262626" textLength="88.1" lengthAdjust="spacingAndGlyphs">PHg (ng/L)</text>
<text transform="translate(45.6 474.8) rotate(-90)" font-size="16" font-weight="bold" fill="#262626" textLength="114.7" lengthAdjust="spacingAndGlyphs">PMeHg (ng/L)</text>
<text transform="translate(754.3 131.6) rotate(-90)" font-size="17.5" font-weight="bold" fill="#00BDBD" textLength="98.8" lengthAdjust="spacingAndGlyphs">Precip (cm)</text>
<text x="87.6" y="51.1" font-size="19" fill="#000" textLength="24" lengthAdjust="spacingAndGlyphs">(A)</text>
<text x="87.6" y="178.8" font-size="19" fill="#000" textLength="24" lengthAdjust="spacingAndGlyphs">(B)</text>
<text x="87.6" y="356.1" font-size="19" fill="#000" textLength="24" lengthAdjust="spacingAndGlyphs">(C)</text>
</g></svg></body></html>
